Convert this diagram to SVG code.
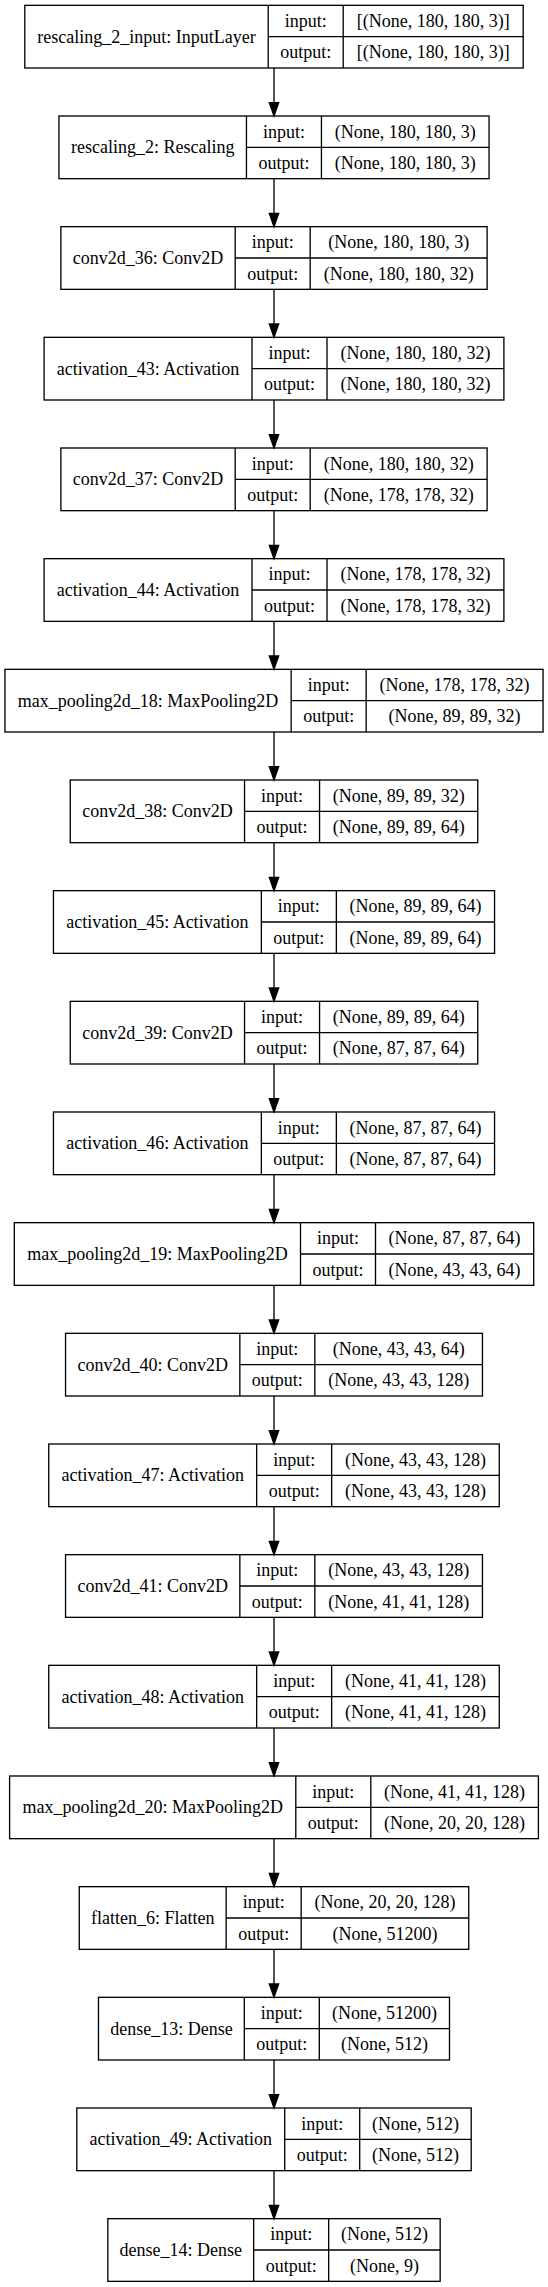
<svg xmlns="http://www.w3.org/2000/svg" width="548" height="2287" viewBox="0 0 548 2287">
<style>
.b{fill:#fff;stroke:#000;stroke-width:1.33}
.s{stroke:#000;stroke-width:1.33;fill:none}
text{font-family:"Liberation Serif","Times New Roman",serif;font-size:18px;fill:#000;text-anchor:middle}
.e{stroke:#000;stroke-width:1.33;fill:none}
.a{fill:#000;stroke:#000;stroke-width:1.33}
</style>
<rect x="0" y="0" width="548" height="2287" fill="#fff"/>
<g id="n0" transform="translate(0,5.33)"><rect class="b" x="24.8" y="0" width="498.4" height="62.67"/><path class="s" d="M268.2,0V62.67M343.2,0V62.67M268.2,31.33H523.2"/><text x="146.5" y="37.3">rescaling_2_input: InputLayer</text><text x="305.7" y="21.7">input:</text><text x="305.7" y="53">output:</text><text x="433.2" y="21.7">[(None, 180, 180, 3)]</text><text x="433.2" y="53">[(None, 180, 180, 3)]</text></g>
<g id="n1" transform="translate(0,116)"><rect class="b" x="58.95" y="0" width="430.1" height="62.67"/><path class="s" d="M246.45,0V62.67M321.45,0V62.67M246.45,31.33H489.05"/><text x="152.7" y="37.3">rescaling_2: Rescaling</text><text x="283.95" y="21.7">input:</text><text x="283.95" y="53">output:</text><text x="405.25" y="21.7">(None, 180, 180, 3)</text><text x="405.25" y="53">(None, 180, 180, 3)</text></g>
<g id="n2" transform="translate(0,226.67)"><rect class="b" x="60.9" y="0" width="426.2" height="62.67"/><path class="s" d="M235.2,0V62.67M310.2,0V62.67M235.2,31.33H487.1"/><text x="148.05" y="37.3">conv2d_36: Conv2D</text><text x="272.7" y="21.7">input:</text><text x="272.7" y="53">output:</text><text x="398.65" y="21.7">(None, 180, 180, 3)</text><text x="398.65" y="53">(None, 180, 180, 32)</text></g>
<g id="n3" transform="translate(0,337.33)"><rect class="b" x="44.1" y="0" width="459.8" height="62.67"/><path class="s" d="M252,0V62.67M327,0V62.67M252,31.33H503.9"/><text x="148.05" y="37.3">activation_43: Activation</text><text x="289.5" y="21.7">input:</text><text x="289.5" y="53">output:</text><text x="415.45" y="21.7">(None, 180, 180, 32)</text><text x="415.45" y="53">(None, 180, 180, 32)</text></g>
<g id="n4" transform="translate(0,448)"><rect class="b" x="60.9" y="0" width="426.2" height="62.67"/><path class="s" d="M235.2,0V62.67M310.2,0V62.67M235.2,31.33H487.1"/><text x="148.05" y="37.3">conv2d_37: Conv2D</text><text x="272.7" y="21.7">input:</text><text x="272.7" y="53">output:</text><text x="398.65" y="21.7">(None, 180, 180, 32)</text><text x="398.65" y="53">(None, 178, 178, 32)</text></g>
<g id="n5" transform="translate(0,558.67)"><rect class="b" x="44.1" y="0" width="459.8" height="62.67"/><path class="s" d="M252,0V62.67M327,0V62.67M252,31.33H503.9"/><text x="148.05" y="37.3">activation_44: Activation</text><text x="289.5" y="21.7">input:</text><text x="289.5" y="53">output:</text><text x="415.45" y="21.7">(None, 178, 178, 32)</text><text x="415.45" y="53">(None, 178, 178, 32)</text></g>
<g id="n6" transform="translate(0,669.33)"><rect class="b" x="4.95" y="0" width="538.1" height="62.67"/><path class="s" d="M291.15,0V62.67M366.15,0V62.67M291.15,31.33H543.05"/><text x="148.05" y="37.3">max_pooling2d_18: MaxPooling2D</text><text x="328.65" y="21.7">input:</text><text x="328.65" y="53">output:</text><text x="454.6" y="21.7">(None, 178, 178, 32)</text><text x="454.6" y="53">(None, 89, 89, 32)</text></g>
<g id="n7" transform="translate(0,780)"><rect class="b" x="70.25" y="0" width="407.5" height="62.67"/><path class="s" d="M244.55,0V62.67M319.55,0V62.67M244.55,31.33H477.75"/><text x="157.4" y="37.3">conv2d_38: Conv2D</text><text x="282.05" y="21.7">input:</text><text x="282.05" y="53">output:</text><text x="398.65" y="21.7">(None, 89, 89, 32)</text><text x="398.65" y="53">(None, 89, 89, 64)</text></g>
<g id="n8" transform="translate(0,890.67)"><rect class="b" x="53.45" y="0" width="441.1" height="62.67"/><path class="s" d="M261.35,0V62.67M336.35,0V62.67M261.35,31.33H494.55"/><text x="157.4" y="37.3">activation_45: Activation</text><text x="298.85" y="21.7">input:</text><text x="298.85" y="53">output:</text><text x="415.45" y="21.7">(None, 89, 89, 64)</text><text x="415.45" y="53">(None, 89, 89, 64)</text></g>
<g id="n9" transform="translate(0,1001.33)"><rect class="b" x="70.25" y="0" width="407.5" height="62.67"/><path class="s" d="M244.55,0V62.67M319.55,0V62.67M244.55,31.33H477.75"/><text x="157.4" y="37.3">conv2d_39: Conv2D</text><text x="282.05" y="21.7">input:</text><text x="282.05" y="53">output:</text><text x="398.65" y="21.7">(None, 89, 89, 64)</text><text x="398.65" y="53">(None, 87, 87, 64)</text></g>
<g id="n10" transform="translate(0,1112)"><rect class="b" x="53.45" y="0" width="441.1" height="62.67"/><path class="s" d="M261.35,0V62.67M336.35,0V62.67M261.35,31.33H494.55"/><text x="157.4" y="37.3">activation_46: Activation</text><text x="298.85" y="21.7">input:</text><text x="298.85" y="53">output:</text><text x="415.45" y="21.7">(None, 87, 87, 64)</text><text x="415.45" y="53">(None, 87, 87, 64)</text></g>
<g id="n11" transform="translate(0,1222.67)"><rect class="b" x="14.3" y="0" width="519.4" height="62.67"/><path class="s" d="M300.5,0V62.67M375.5,0V62.67M300.5,31.33H533.7"/><text x="157.4" y="37.3">max_pooling2d_19: MaxPooling2D</text><text x="338" y="21.7">input:</text><text x="338" y="53">output:</text><text x="454.6" y="21.7">(None, 87, 87, 64)</text><text x="454.6" y="53">(None, 43, 43, 64)</text></g>
<g id="n12" transform="translate(0,1333.33)"><rect class="b" x="65.55" y="0" width="416.9" height="62.67"/><path class="s" d="M239.85,0V62.67M314.85,0V62.67M239.85,31.33H482.45"/><text x="152.7" y="37.3">conv2d_40: Conv2D</text><text x="277.35" y="21.7">input:</text><text x="277.35" y="53">output:</text><text x="398.65" y="21.7">(None, 43, 43, 64)</text><text x="398.65" y="53">(None, 43, 43, 128)</text></g>
<g id="n13" transform="translate(0,1444)"><rect class="b" x="48.75" y="0" width="450.5" height="62.67"/><path class="s" d="M256.65,0V62.67M331.65,0V62.67M256.65,31.33H499.25"/><text x="152.7" y="37.3">activation_47: Activation</text><text x="294.15" y="21.7">input:</text><text x="294.15" y="53">output:</text><text x="415.45" y="21.7">(None, 43, 43, 128)</text><text x="415.45" y="53">(None, 43, 43, 128)</text></g>
<g id="n14" transform="translate(0,1554.67)"><rect class="b" x="65.55" y="0" width="416.9" height="62.67"/><path class="s" d="M239.85,0V62.67M314.85,0V62.67M239.85,31.33H482.45"/><text x="152.7" y="37.3">conv2d_41: Conv2D</text><text x="277.35" y="21.7">input:</text><text x="277.35" y="53">output:</text><text x="398.65" y="21.7">(None, 43, 43, 128)</text><text x="398.65" y="53">(None, 41, 41, 128)</text></g>
<g id="n15" transform="translate(0,1665.33)"><rect class="b" x="48.75" y="0" width="450.5" height="62.67"/><path class="s" d="M256.65,0V62.67M331.65,0V62.67M256.65,31.33H499.25"/><text x="152.7" y="37.3">activation_48: Activation</text><text x="294.15" y="21.7">input:</text><text x="294.15" y="53">output:</text><text x="415.45" y="21.7">(None, 41, 41, 128)</text><text x="415.45" y="53">(None, 41, 41, 128)</text></g>
<g id="n16" transform="translate(0,1776)"><rect class="b" x="9.6" y="0" width="528.8" height="62.67"/><path class="s" d="M295.8,0V62.67M370.8,0V62.67M295.8,31.33H538.4"/><text x="152.7" y="37.3">max_pooling2d_20: MaxPooling2D</text><text x="333.3" y="21.7">input:</text><text x="333.3" y="53">output:</text><text x="454.6" y="21.7">(None, 41, 41, 128)</text><text x="454.6" y="53">(None, 20, 20, 128)</text></g>
<g id="n17" transform="translate(0,1886.67)"><rect class="b" x="79.25" y="0" width="389.5" height="62.67"/><path class="s" d="M226.15,0V62.67M301.15,0V62.67M226.15,31.33H468.75"/><text x="152.7" y="37.3">flatten_6: Flatten</text><text x="263.65" y="21.7">input:</text><text x="263.65" y="53">output:</text><text x="384.95" y="21.7">(None, 20, 20, 128)</text><text x="384.95" y="53">(None, 51200)</text></g>
<g id="n18" transform="translate(0,1997.33)"><rect class="b" x="98.5" y="0" width="351" height="62.67"/><path class="s" d="M244.3,0V62.67M319.3,0V62.67M244.3,31.33H449.5"/><text x="171.4" y="37.3">dense_13: Dense</text><text x="281.8" y="21.7">input:</text><text x="281.8" y="53">output:</text><text x="384.4" y="21.7">(None, 51200)</text><text x="384.4" y="53">(None, 512)</text></g>
<g id="n19" transform="translate(0,2108)"><rect class="b" x="76.8" y="0" width="394.4" height="62.67"/><path class="s" d="M284.7,0V62.67M359.7,0V62.67M284.7,31.33H471.2"/><text x="180.75" y="37.3">activation_49: Activation</text><text x="322.2" y="21.7">input:</text><text x="322.2" y="53">output:</text><text x="415.45" y="21.7">(None, 512)</text><text x="415.45" y="53">(None, 512)</text></g>
<g id="n20" transform="translate(0,2218.67)"><rect class="b" x="107.85" y="0" width="332.3" height="62.67"/><path class="s" d="M253.65,0V62.67M328.65,0V62.67M253.65,31.33H440.15"/><text x="180.75" y="37.3">dense_14: Dense</text><text x="291.15" y="21.7">input:</text><text x="291.15" y="53">output:</text><text x="384.4" y="21.7">(None, 512)</text><text x="384.4" y="53">(None, 9)</text></g>
<g id="edges">
<path class="e" d="M274,68V102.67M274,178.67V213.33M274,289.33V324M274,400V434.67M274,510.67V545.33M274,621.33V656M274,732V766.67M274,842.67V877.33M274,953.33V988M274,1064V1098.67M274,1174.67V1209.33M274,1285.33V1320M274,1396V1430.67M274,1506.67V1541.33M274,1617.33V1652M274,1728V1762.67M274,1838.67V1873.33M274,1949.33V1984M274,2060V2094.67M274,2170.67V2205.33"/>
<polygon class="a" points="269.33,102.67 278.67,102.67 274,116"/>
<polygon class="a" points="269.33,213.33 278.67,213.33 274,226.67"/>
<polygon class="a" points="269.33,324 278.67,324 274,337.33"/>
<polygon class="a" points="269.33,434.67 278.67,434.67 274,448"/>
<polygon class="a" points="269.33,545.33 278.67,545.33 274,558.67"/>
<polygon class="a" points="269.33,656 278.67,656 274,669.33"/>
<polygon class="a" points="269.33,766.67 278.67,766.67 274,780"/>
<polygon class="a" points="269.33,877.33 278.67,877.33 274,890.67"/>
<polygon class="a" points="269.33,988 278.67,988 274,1001.33"/>
<polygon class="a" points="269.33,1098.67 278.67,1098.67 274,1112"/>
<polygon class="a" points="269.33,1209.33 278.67,1209.33 274,1222.67"/>
<polygon class="a" points="269.33,1320 278.67,1320 274,1333.33"/>
<polygon class="a" points="269.33,1430.67 278.67,1430.67 274,1444"/>
<polygon class="a" points="269.33,1541.33 278.67,1541.33 274,1554.67"/>
<polygon class="a" points="269.33,1652 278.67,1652 274,1665.33"/>
<polygon class="a" points="269.33,1762.67 278.67,1762.67 274,1776"/>
<polygon class="a" points="269.33,1873.33 278.67,1873.33 274,1886.67"/>
<polygon class="a" points="269.33,1984 278.67,1984 274,1997.33"/>
<polygon class="a" points="269.33,2094.67 278.67,2094.67 274,2108"/>
<polygon class="a" points="269.33,2205.33 278.67,2205.33 274,2218.67"/>
</g>
</svg>
